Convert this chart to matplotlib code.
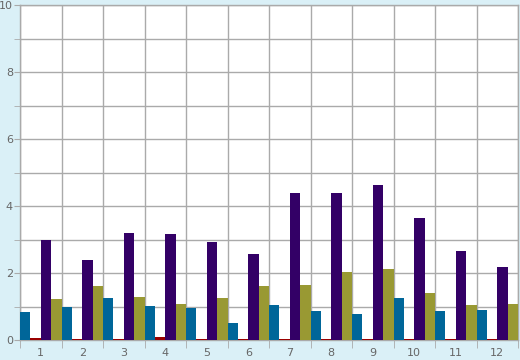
import numpy as np
import matplotlib.pyplot as plt

categories = ['1', '2', '3', '4', '5', '6', '7', '8', '9', '10', '11', '12']
blue = [0.84, 0.99, 1.25, 1.01, 0.96, 0.51, 1.04, 0.87, 0.78, 1.25, 0.87, 0.90]
red = [0.07, 0.02, 0.02, 0.09, 0.02, 0.02, 0.02, 0.02, 0.02, 0.02, 0.02, 0.02]
purple = [2.99, 2.39, 3.19, 3.16, 2.92, 2.57, 4.39, 4.39, 4.63, 3.64, 2.66, 2.18]
olive = [1.22, 1.61, 1.28, 1.07, 1.26, 1.61, 1.64, 2.03, 2.12, 1.40, 1.04, 1.07]

series = [blue, red, purple, olive]
colors = ['#006699', '#990000', '#330066', '#999933']

bg = '#daf0f7'
fig = plt.figure(figsize=(5.2, 3.6), dpi=100, facecolor=bg)
ax = fig.add_axes([20/520, 20/360, 498/520, 335/360])
ax.set_facecolor('white')

n = len(categories)
x = np.arange(n)
w = 0.25
for i, (vals, c) in enumerate(zip(series, colors)):
    ax.bar(x - 0.5 + w*(i + 0.5), vals, width=w, color=c, zorder=3, linewidth=0)

ax.set_xlim(-0.5, n - 0.5)
ax.set_ylim(0, 10)

gc = '#aaaaaa'
ax.set_xticks(x)
ax.set_xticklabels(categories)
ax.set_xticks(np.arange(n + 1) - 0.5, minor=True)
ax.set_yticks(np.arange(0, 11, 2))
ax.set_yticks(np.arange(1, 10, 2), minor=True)
ax.grid(True, axis='y', which='both', color=gc, linewidth=1, zorder=0)
ax.grid(True, axis='x', which='minor', color=gc, linewidth=1, zorder=0)
ax.grid(False, axis='x', which='major')
ax.tick_params(axis='x', which='major', length=0, pad=6, labelsize=8, colors='#666666')
ax.tick_params(axis='x', which='minor', length=6, color=gc)
ax.tick_params(axis='y', which='both', length=4, color=gc, labelsize=8, labelcolor='#666666', pad=1)
for s in ax.spines.values():
    s.set_color(gc)
    s.set_linewidth(1)

fig.savefig('out.png', dpi=100, facecolor=bg)
